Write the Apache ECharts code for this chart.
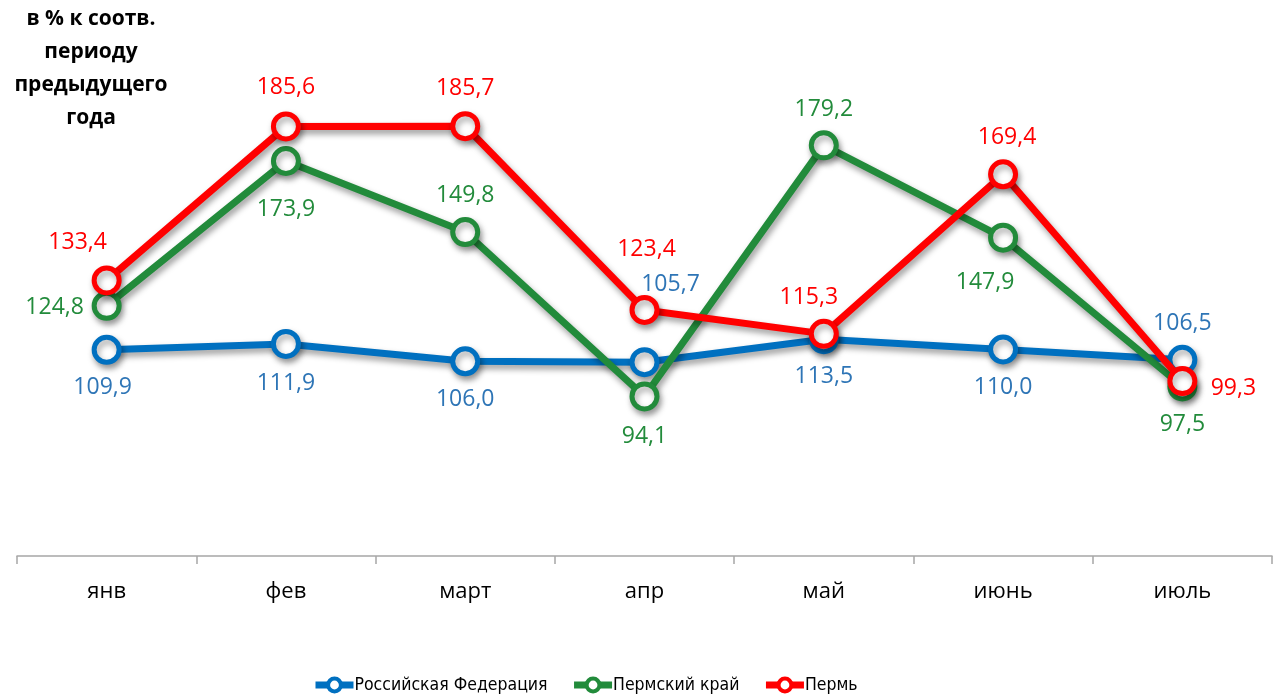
<!DOCTYPE html>
<html>
<head>
<meta charset="utf-8">
<script src="https://cdn.jsdelivr.net/npm/echarts@6/dist/echarts.min.js"></script>
<style>
html,body{margin:0;padding:0;background:#fff;}
#chart{width:1275px;height:697px;}
</style>
</head>
<body>
<div id="chart"></div>
<script>
// ---- data ----
const categories = ['янв', 'фев', 'март', 'апр', 'май', 'июнь', 'июль'];
const seriesNames = ['Российская Федерация', 'Пермский край', 'Пермь'];
const rfValues = [109.9, 111.9, 106.0, 105.7, 113.5, 110.0, 106.5];
const pkValues = [124.8, 173.9, 149.8, 94.1, 179.2, 147.9, 97.5];
const permValues = [133.4, 185.6, 185.7, 123.4, 115.3, 169.4, 99.3];
const titleLines = ['в % к соотв.', 'периоду', 'предыдущего', 'года'];

// ---- styling (label placement offsets, colours) ----
const lineColors = ['#0070C0', '#228B3B', '#FF0000'];
const labelColors = ['#2E75B6', '#228B3B', '#FF0000'];
const labelOffsets = [
  [[-4, 38], [0, 40], [0, 38], [26, -78], [0, 37], [0, 38], [0, -36]],
  [[-52, 2], [0, 48], [0, -37], [0, 40], [0, -36], [-18, 45], [0, 38]],
  [[-29, -38], [0, -39], [0, -38], [2, -61], [-15, -36], [4, -37], [51, 7]]
];

const FONT = "'Open Sans', 'Noto Sans', sans-serif";
const allValues = [rfValues, pkValues, permValues];

function buildSeries(i) {
  return {
    name: seriesNames[i],
    type: 'line',
    z: 2 + i,
    symbol: 'circle',
    symbolSize: 25,
    data: allValues[i].map((v, j) => ({
      value: v,
      label: { offset: labelOffsets[i][j] }
    })),
    lineStyle: {
      color: lineColors[i], width: 7,
      shadowColor: 'rgba(0,0,0,0.4)', shadowBlur: 6, shadowOffsetX: 2, shadowOffsetY: 4
    },
    itemStyle: {
      color: '#ffffff', borderColor: lineColors[i], borderWidth: 5,
      shadowColor: 'rgba(0,0,0,0.35)', shadowBlur: 6, shadowOffsetX: 2, shadowOffsetY: 4
    },
    label: {
      show: true,
      position: 'inside',
      align: 'center',
      verticalAlign: 'middle',
      color: labelColors[i],
      fontFamily: FONT,
      fontSize: 23,
      formatter: p => p.value.toFixed(1).replace('.', ',')
    },
    emphasis: { disabled: true },
    animation: false
  };
}

const chart = echarts.init(document.getElementById('chart'));
chart.setOption({
  backgroundColor: '#ffffff',
  animation: false,
  grid: { left: 17, right: 3, top: 25, bottom: 141, containLabel: false },
  xAxis: {
    type: 'category',
    data: categories,
    boundaryGap: true,
    axisLine: { lineStyle: { color: '#A6A6A6', width: 1.5 } },
    axisTick: { show: true, length: 8, inside: false, lineStyle: { color: '#A6A6A6', width: 1.5 } },
    axisLabel: { color: '#000', fontFamily: FONT, fontSize: 22, margin: 25 }
  },
  yAxis: {
    type: 'value',
    min: 40, max: 220,
    show: false,
    splitLine: { show: false }
  },
  legend: {
    left: 307,
    top: 671,
    itemWidth: 38,
    itemHeight: 16,
    itemGap: 23,
    itemStyle: { color: '#ffffff', borderWidth: 4 },
    lineStyle: { width: 7 },
    textStyle: { fontFamily: "'DejaVu Sans Condensed', 'Liberation Sans Narrow', " + FONT, fontSize: 17.5, color: '#000', padding: [0, 0, 0, -4] },
    data: seriesNames
  },
  graphic: [{
    type: 'text',
    x: 91,
    y: 3,
    style: {
      text: titleLines.join('\n'),
      font: "bold 21px " + FONT,
      lineHeight: 33,
      align: 'center',
      verticalAlign: 'top',
      fill: '#000'
    }
  }],
  series: [0, 1, 2].map(buildSeries)
});
</script>
</body>
</html>
